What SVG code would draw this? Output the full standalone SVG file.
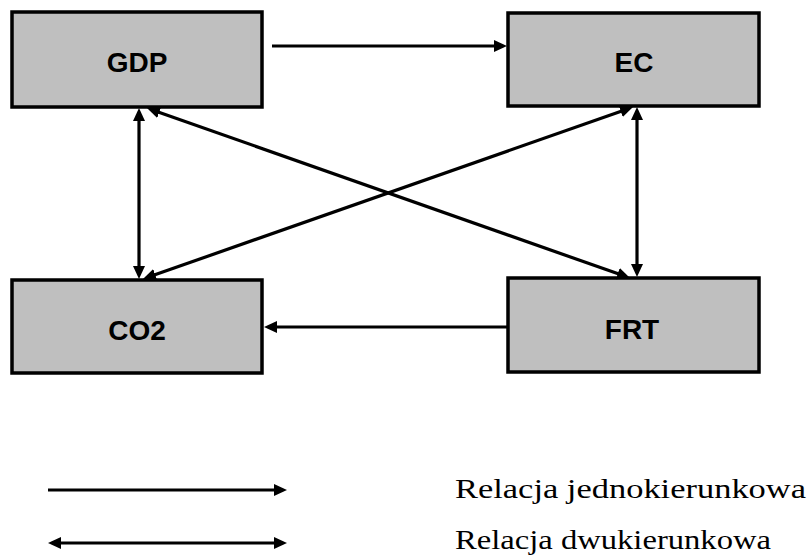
<svg xmlns="http://www.w3.org/2000/svg" width="810" height="556" viewBox="0 0 810 556">
<style>
.box{fill:#bfbfbf;stroke:#000;stroke-width:3.5}
.lbl{font-family:"Liberation Sans",Arial,sans-serif;font-weight:bold;font-size:28px;text-anchor:middle;fill:#000}
.con{stroke:#000;stroke-width:3.2;fill:none}
.one{marker-end:url(#ah)}
.two{marker-start:url(#ah);marker-end:url(#ah)}
.leg{font-family:"Liberation Serif","Times New Roman",serif;font-size:27px;fill:#000}
</style>
<defs>
<marker id="ah" markerUnits="userSpaceOnUse" markerWidth="13" markerHeight="12" refX="8" refY="6" orient="auto-start-reverse" viewBox="0 0 13 12">
<path d="M0,0 L13,6 L0,12 z" fill="#000"/>
</marker>
</defs>
<rect width="810" height="556" fill="#fff"/>
<g id="GDP"><rect class="box" x="12" y="12" width="250" height="95"/><text class="lbl" x="137" y="72">GDP</text></g>
<g id="EC"><rect class="box" x="508" y="13" width="251" height="93"/><text class="lbl" x="634" y="72">EC</text></g>
<g id="CO2"><rect class="box" x="12" y="280" width="250" height="93"/><text class="lbl" x="137" y="340">CO2</text></g>
<g id="FRT"><rect class="box" x="508" y="278" width="251" height="94"/><text class="lbl" x="632" y="339">FRT</text></g>
<g id="connectors">
<line class="con one" x1="272" y1="46" x2="502" y2="46"/>
<line class="con two" x1="139" y1="113" x2="139" y2="274"/>
<line class="con two" x1="637" y1="112" x2="637" y2="272"/>
<line class="con two" x1="151.7" y1="109.7" x2="625.3" y2="276.3"/>
<line class="con two" x1="628.3" y1="108.7" x2="147.7" y2="277.3"/>
<line class="con one" x1="508" y1="327" x2="269" y2="327"/>
</g>
<g id="legend">
<line class="con one" x1="48" y1="490" x2="282" y2="490"/>
<line class="con two" x1="53" y1="543" x2="282" y2="543"/>
<text class="leg" x="455" y="498" textLength="351" lengthAdjust="spacingAndGlyphs">Relacja jednokierunkowa</text>
<text class="leg" x="455" y="549" textLength="316" lengthAdjust="spacingAndGlyphs">Relacja dwukierunkowa</text>
</g>
</svg>
